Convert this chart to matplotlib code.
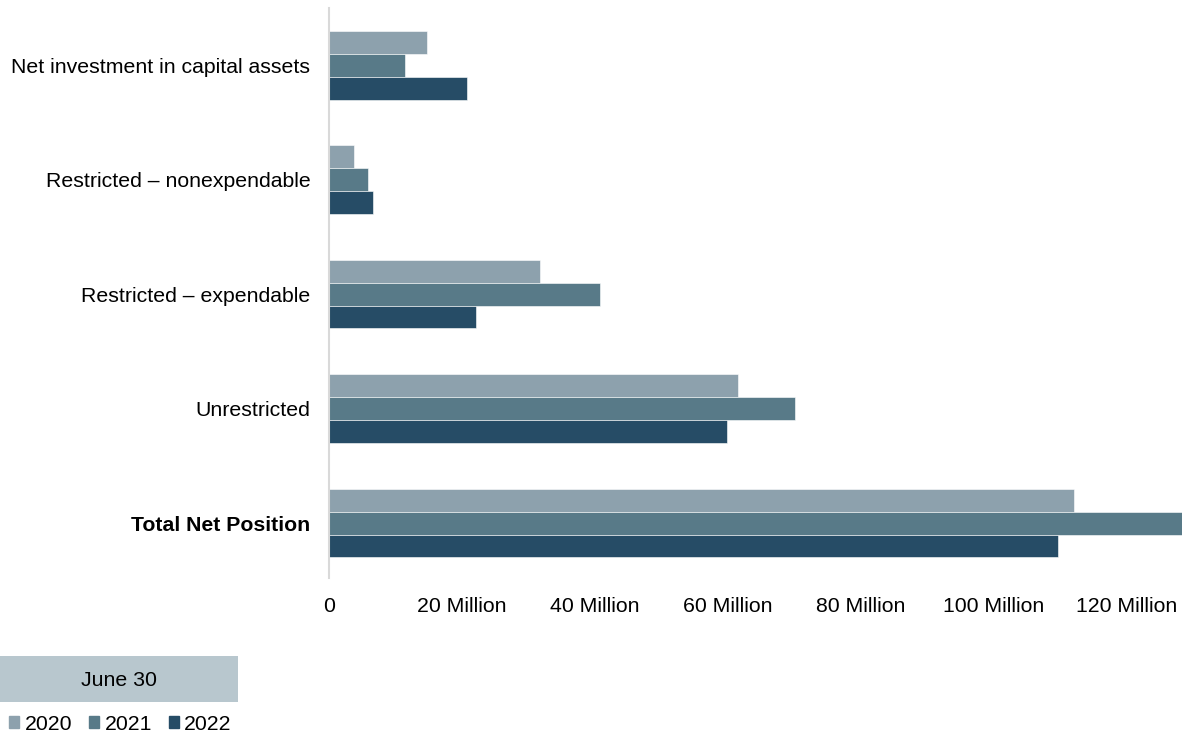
import numpy as np
import matplotlib.pyplot as plt
import matplotlib.transforms as mtransforms
from matplotlib.patches import Patch, Rectangle

plt.rcParams['font.family'] = ['Liberation Sans', 'DejaVu Sans']

categories = ['Net investment in capital assets', 'Restricted \u2013 nonexpendable',
              'Restricted \u2013 expendable', 'Unrestricted', 'Total Net Position']
years = ['2020', '2021', '2022']
vals_2020 = [14.7, 3.8, 31.7, 61.5, 112.0]
vals_2021 = [11.4, 5.9, 40.8, 70.1, 128.3]
vals_2022 = [20.8, 6.6, 22.1, 59.8, 109.6]
colors = ['#8DA1AD', '#587A88', '#264C66']
ticks = [0, 20, 40, 60, 80, 100, 120]
tick_labels = ['0', '20 Million', '40 Million', '60 Million', '80 Million', '100 Million', '120 Million']

fs = 15.3

fig = plt.figure(figsize=(11.82, 7.36), dpi=100)
ax = fig.add_axes([329 / 1182, 1 - 578 / 736, 1 - 329 / 1182, (578 - 8) / 736])

y = np.arange(len(categories))
h = 0.2
for i, (vals, c) in enumerate(zip([vals_2020, vals_2021, vals_2022], colors)):
    ax.barh(y + (i - 1) * h, vals, height=h, color=c, edgecolor='white', linewidth=0.4)

ax.set_ylim(len(categories) - 0.52, -0.5)
ax.set_xlim(0, 128.3)
ax.set_yticks(y)
ax.set_yticklabels(categories, fontsize=fs)
total_lbl = ax.get_yticklabels()[-1]
total_lbl.set_fontweight('bold')
total_lbl.set_transform(total_lbl.get_transform() +
                        mtransforms.ScaledTranslation(-5 / 100, 0, fig.dpi_scale_trans))
ax.set_xticks(ticks)
ax.set_xticklabels(tick_labels, fontsize=fs)
ax.tick_params(axis='both', length=0)
ax.tick_params(axis='y', pad=13.5)
ax.tick_params(axis='x', pad=13.5)
for s in ['top', 'right', 'bottom']:
    ax.spines[s].set_visible(False)
ax.spines['left'].set_color('#D9D9D9')
ax.spines['left'].set_linewidth(1.5)

# legend title box
fig.add_artist(Rectangle((0, 1 - 702 / 736), 238 / 1182, 46 / 736,
                         transform=fig.transFigure, color='#B8C7CE', lw=0))
fig.text(119 / 1182, 1 - 680 / 736, 'June 30', ha='center', va='center', fontsize=fs)

handles = [Patch(color=c) for c in colors]
fig.legend(handles, years, loc='center left', bbox_to_anchor=(0.0075, 1 - 724 / 736),
           ncol=3, frameon=False, fontsize=fs, handlelength=0.48, handleheight=0.48,
           handletextpad=0.25, columnspacing=0.8, borderpad=0, borderaxespad=0)

fig.savefig('out.png', dpi=100)
